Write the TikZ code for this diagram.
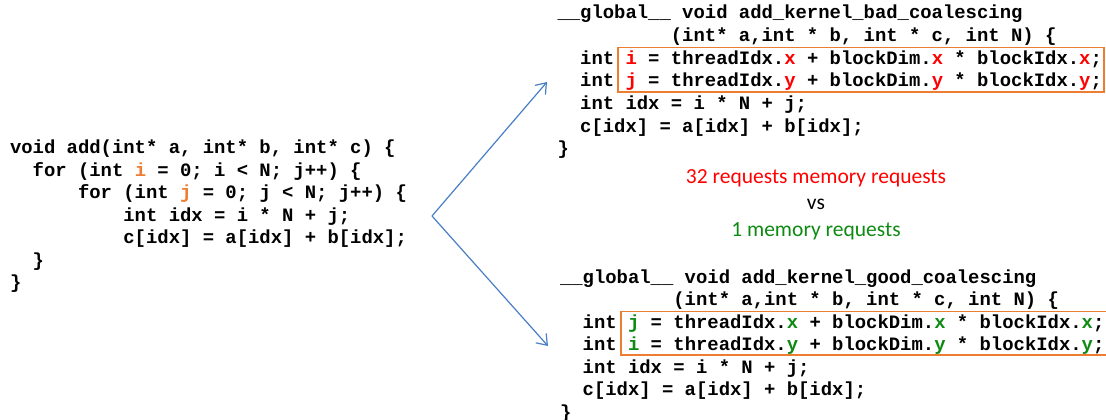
\documentclass[tikz,border=0pt]{standalone}
\usepackage{fontspec}
\setmonofont{Liberation Mono}
\newfontfamily\notefont{Carlito}
\usetikzlibrary{arrows.meta}

\definecolor{hiorange}{HTML}{ED7D31}
\definecolor{hired}{HTML}{FF0000}
\definecolor{higreen}{HTML}{0E8A12}
\definecolor{forkblue}{HTML}{4A7EC4}

\newcommand{\hO}[1]{\textcolor{hiorange}{#1}}
\newcommand{\hR}[1]{\textcolor{hired}{#1}}
\newcommand{\hG}[1]{\textcolor{higreen}{#1}}

\begin{document}
\begin{tikzpicture}[x=1pt,y=-1pt,
  codeline/.style={anchor=base west,inner sep=0pt,outer sep=0pt,
    font=\fontsize{18.9}{22.6}\selectfont\ttfamily\bfseries},
  note/.style={anchor=base,inner sep=0pt,font=\fontsize{21.5}{26}\selectfont\notefont},
  hlbox/.style={draw=hiorange,line width=1.5pt},
  fork/.style={draw=forkblue,line width=1.2pt,-{Straight Barb[length=9.5pt,width=14pt]}}]
\useasboundingbox (0,0) rectangle (1106,420);

% character pitch of the code font
\def\cw{11.34}

% sequential version
\def\xl{10}
\node[codeline] (s0) at (\xl,153) {void add(int* a, int* b, int* c) \{};
\node[codeline] (s1) at (\xl+2*\cw,176) {for (int \hO{i} = 0; i < N; j++) \{};
\node[codeline] (s2) at (\xl+6*\cw,198.5) {for (int \hO{j} = 0; j < N; j++) \{};
\node[codeline] (s3) at (\xl+10*\cw,221) {int idx = i * N + j;};
\node[codeline] (s4) at (\xl+10*\cw,243.5) {c[idx] = a[idx] + b[idx];};
\node[codeline] (s5) at (\xl+2*\cw,266) {\}};
\node[codeline] (s6) at (\xl,288.5) {\}};

% kernel with poor coalescing
\def\xa{557.5}
\draw[hlbox] (618,47.5) rectangle (1104,92);
\node[codeline] (a0) at (\xa,19) {\_\_global\_\_ void add\_kernel\_bad\_coalescing};
\node[codeline] (a1) at (\xa+10*\cw,41.6) {(int* a,int * b, int * c, int N) \{};
\node[codeline] (a2) at (\xa+2*\cw,64.2) {int \hR{i} = threadIdx.\hR{x} + blockDim.\hR{x} * blockIdx.\hR{x};};
\node[codeline] (a3) at (\xa+2*\cw,86.8) {int \hR{j} = threadIdx.\hR{y} + blockDim.\hR{y} * blockIdx.\hR{y};};
\node[codeline] (a4) at (\xa+2*\cw,109.4) {int idx = i * N + j;};
\node[codeline] (a5) at (\xa+2*\cw,132) {c[idx] = a[idx] + b[idx];};
\node[codeline] (a6) at (\xa,154.6) {\}};

% comparison of memory requests
\node[note,text=hired] (n1) at (816,183) {32 requests memory requests};
\node[note] (n2) at (816,209.5) {vs};
\node[note,text=higreen] (n3) at (816,236) {1 memory requests};

% kernel with good coalescing
\def\xb{560}
\draw[hlbox] (621,311.5) rectangle (1112,355);
\node[codeline] (b0) at (\xb,283) {\_\_global\_\_ void add\_kernel\_good\_coalescing};
\node[codeline] (b1) at (\xb+10*\cw,305.5) {(int* a,int * b, int * c, int N) \{};
\node[codeline] (b2) at (\xb+2*\cw,328) {int \hG{j} = threadIdx.\hG{x} + blockDim.\hG{x} * blockIdx.\hG{x};};
\node[codeline] (b3) at (\xb+2*\cw,350.5) {int \hG{i} = threadIdx.\hG{y} + blockDim.\hG{y} * blockIdx.\hG{y};};
\node[codeline] (b4) at (\xb+2*\cw,373) {int idx = i * N + j;};
\node[codeline] (b5) at (\xb+2*\cw,395.5) {c[idx] = a[idx] + b[idx];};
\node[codeline] (b6) at (\xb,418) {\}};

% fork arrows
\coordinate (split) at (432,216);
\coordinate (toBad) at (547,82);
\coordinate (toGood) at (548,346);
\draw[fork] (split) -- (toBad);
\draw[fork] (split) -- (toGood);
\end{tikzpicture}
\end{document}
